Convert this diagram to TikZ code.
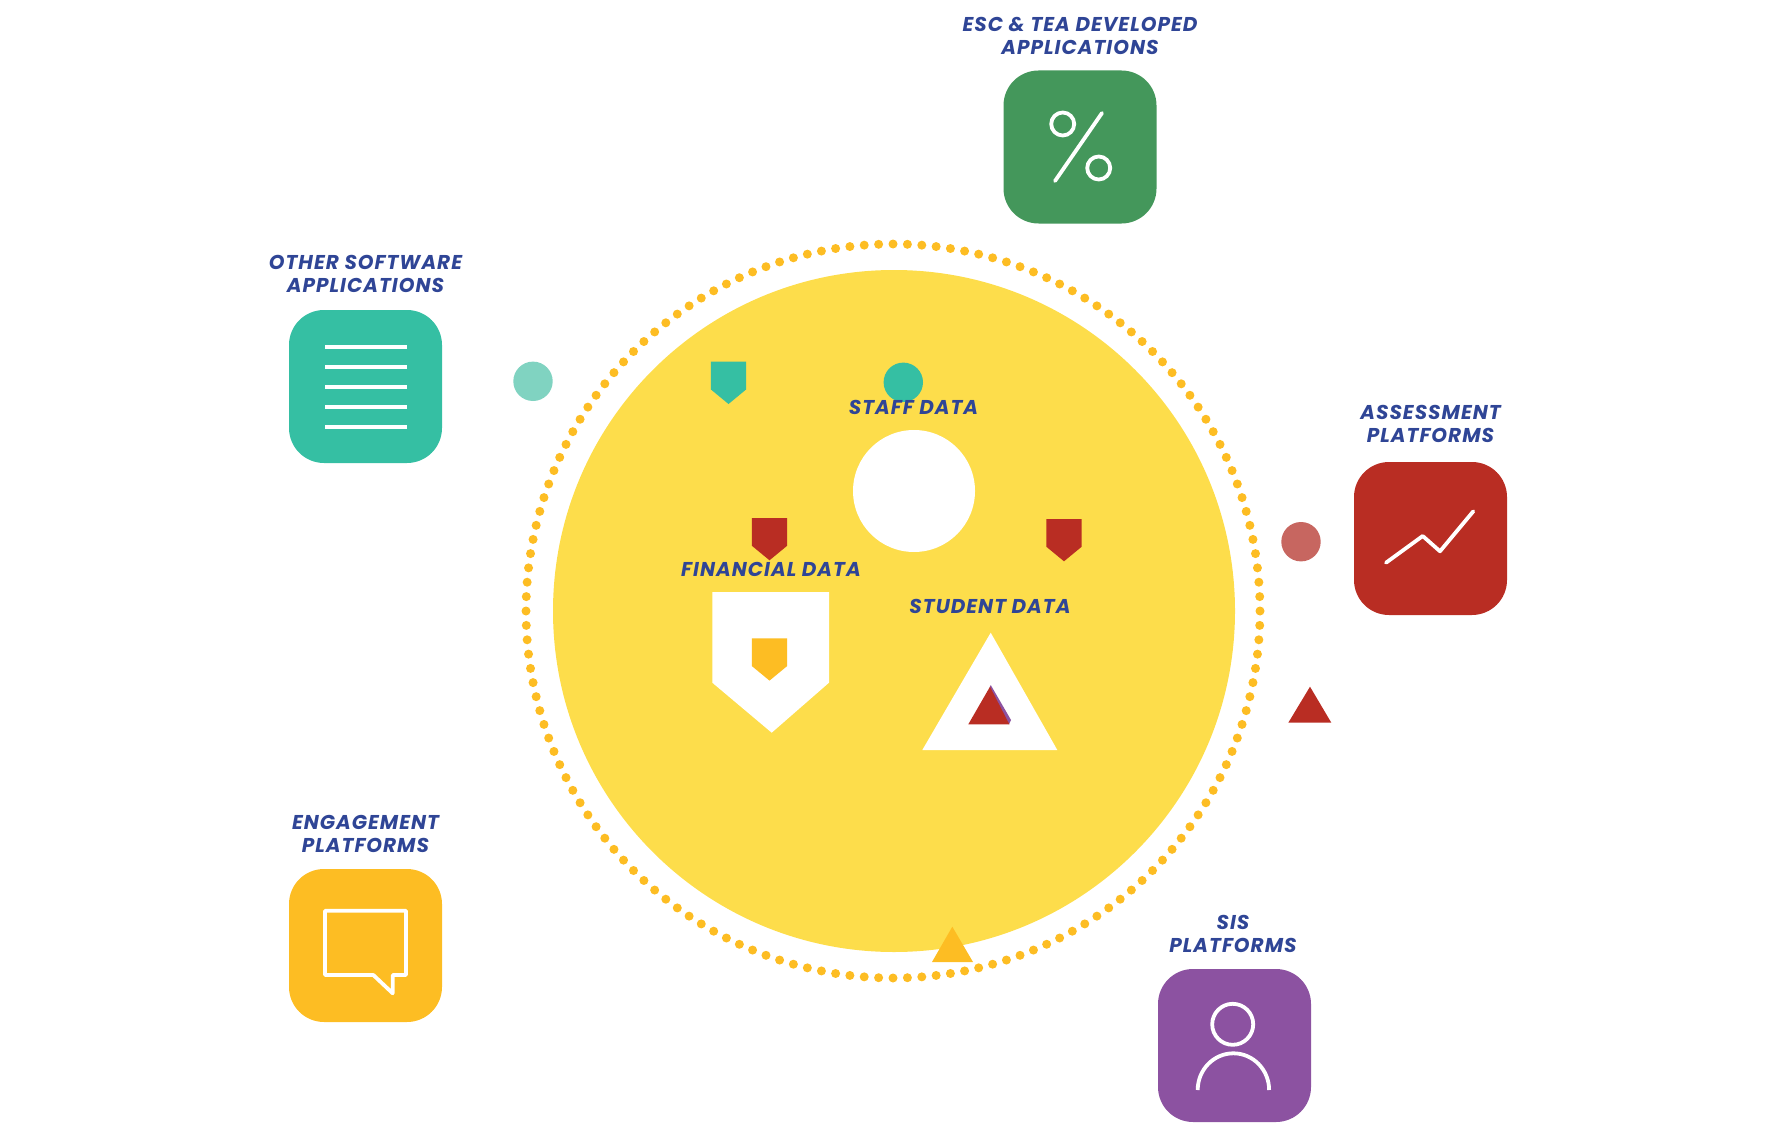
\documentclass[tikz,border=0pt]{standalone}
\usetikzlibrary{calc}
\usepackage{fontspec}
\setmainfont{Poppins}[LetterSpace=5]
\definecolor{sunyellow}{HTML}{FDDD4B}
\definecolor{amber}{HTML}{FDBD23}
\definecolor{tealgreen}{HTML}{35BFA3}
\definecolor{palegreen}{HTML}{80D3C1}
\definecolor{leafgreen}{HTML}{44975B}
\definecolor{brickred}{HTML}{B92D23}
\definecolor{palered}{HTML}{C76660}
\definecolor{plum}{HTML}{8C52A1}
\definecolor{inkblue}{HTML}{2F4596}
\tikzset{
    iconbox/.style={fill=#1, rounded corners=35pt, minimum size=153pt, inner sep=0pt},
    iconline/.style={draw=white, line width=3.8pt, line cap=round, line join=round},
    datalabel/.style={text=inkblue, align=center, inner sep=0pt, font=\fontsize{20}{23}\selectfont\bfseries\itshape}
}
\begin{document}
\begin{tikzpicture}[x=1pt, y=-1pt]
    \useasboundingbox (0,0) rectangle (1790,1134);

    % Core circle and dotted ring
    \fill[sunyellow] (894,611) circle (341pt);
    \foreach \a in {0,2.25,...,358} {
        \fill[amber] ($(893,611)+(\a:367pt)$) circle (4.5pt);
    }

    % Icon boxes
    \node[iconbox=leafgreen] (esc) at (1080,147) {};
    \node[iconbox=tealgreen] (other) at (365.5,386.5) {};
    \node[iconbox=brickred] (assess) at (1430.5,538.5) {};
    \node[iconbox=amber] (engage) at (365.5,945.5) {};
    \node[iconbox=plum] (sis) at (1234.5,1045.5) {};

    % Icon drawings
    \draw[iconline] (1062.7,124) circle (11.5pt);
    \draw[iconline] (1098.7,168) circle (11.5pt);
    \draw[iconline] (1102,113) -- (1055,181);
    \foreach \y in {347.3,367.3,...,428} {
        \draw[iconline, line cap=butt] (325,\y) -- (407,\y);
    }
    \draw[iconline] (1386,562.7) -- (1422.7,536) -- (1440,551.3) -- (1473.3,511.3);
    \draw[iconline] (325,910.7) -- (406,910.7) -- (406,975) -- (392.7,975) -- (392.7,993.3) -- (373.3,975) -- (325,975) -- cycle;
    \draw[iconline] (1232.7,1024.3) circle (20.5pt);
    \draw[iconline, line cap=butt] (1197.7,1090) arc (180:0:35.7pt and 36.7pt);

    % White marks on the core
    \fill[white] (914,491) circle (61pt);
    \fill[white] (712.3,592) -- (829,592) -- (829,682.7) -- (771.7,732.7) -- (712.3,682.7) -- cycle;
    \fill[white] (990.7,632.7) -- (1057.3,750) -- (922.3,750) -- cycle;

    % Small shields
    \foreach \sx/\sy/\col in {728.5/361.7/tealgreen, 769.5/518/brickred, 1064/519/brickred, 769.5/638.3/amber} {
        \fill[\col] (\sx-17.7,\sy) -- (\sx+17.7,\sy) -- (\sx+17.7,\sy+27.7) -- (\sx,\sy+42.3) -- (\sx-17.7,\sy+27.7) -- cycle;
    }

    % Small circles
    \fill[tealgreen] (903.3,382.3) circle (19.7pt);
    \fill[palegreen] (533,381.3) circle (19.7pt);
    \fill[palered] (1301,541.7) circle (19.7pt);

    % Small triangles
    \fill[plum] (990.7,685) -- (1011,720) -- (1009,724.3) -- (985,700) -- cycle;
    \fill[brickred] (990,686.7) -- (1009.3,724.3) -- (968.3,724.3) -- cycle;
    \fill[brickred] (1310,686.7) -- (1331.3,722.7) -- (1288.3,722.7) -- cycle;
    \fill[amber] (952.3,926.7) -- (973,962) -- (932,962) -- cycle;

    % Labels
    \node[datalabel] (esclabel) at (1080,35.5) {ESC \& TEA DEVELOPED\\APPLICATIONS};
    \node[datalabel] (otherlabel) at (365.5,274) {OTHER SOFTWARE\\APPLICATIONS};
    \node[datalabel] (assesslabel) at (1430.5,424) {ASSESSMENT\\PLATFORMS};
    \node[datalabel] (engagelabel) at (365.5,834) {ENGAGEMENT\\PLATFORMS};
    \node[datalabel] (sislabel) at (1233,934) {SIS\\PLATFORMS};
    \node[datalabel] (stafflabel) at (913.5,407.5) {STAFF DATA};
    \node[datalabel] (financelabel) at (771,569) {FINANCIAL DATA};
    \node[datalabel] (studentlabel) at (990,606) {STUDENT DATA};
\end{tikzpicture}
\end{document}
